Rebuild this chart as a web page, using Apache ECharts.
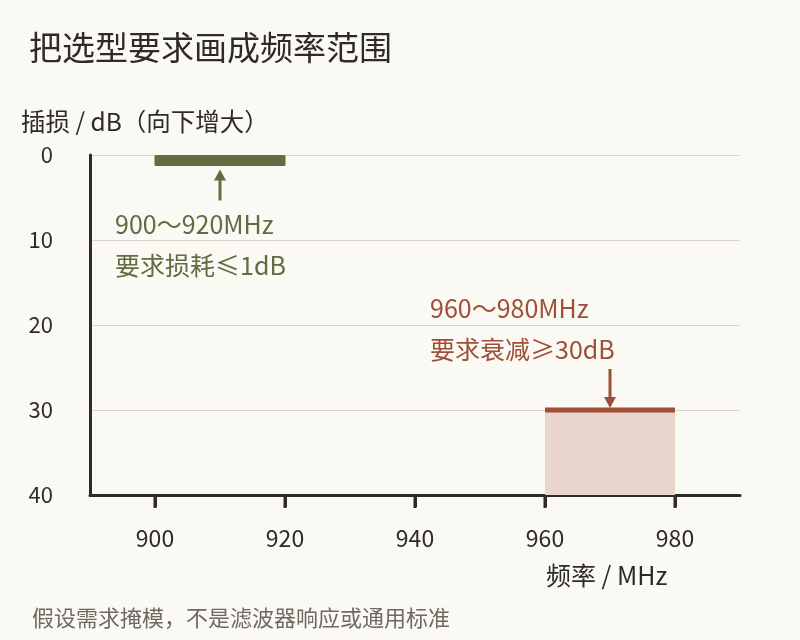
<!DOCTYPE html>
<html>
<head>
<meta charset="utf-8">
<script src="https://cdn.jsdelivr.net/npm/echarts@6/dist/echarts.min.js"></script>
<style>
html,body{margin:0;padding:0;background:#fbf9f4;}
#c{width:800px;height:640px;}
</style>
</head>
<body>
<div id="c"></div>
<script>
// ---- data ----
var xTicks = [900, 920, 940, 960, 980];
var xRange = [890, 990];
var yRange = [0, 40];
var passBand = [900, 920];      // MHz
var passMaxLoss = 1;            // dB
var stopBand = [960, 980];      // MHz
var stopMinAtten = 30;          // dB
var passLabel = ['900～920MHz', '要求损耗≤1dB'];
var stopLabel = ['960～980MHz', '要求衰减≥30dB'];

var FONT = '"Noto Sans CJK SC", "Noto Sans", sans-serif';
var GREEN = '#646b43';
var RED = '#a04f37';
var RED_FILL = '#e8d5cb';
var DARK = '#2e2b27';

var chart = echarts.init(document.getElementById('c'));

function arrow(x, yTip, yTail, color) {
  var dir = yTail > yTip ? 1 : -1;
  var headLen = 11, headW = 6;
  return [
    { type: 'line', shape: { x1: x, y1: yTail, x2: x, y2: yTip + dir * headLen * 0.8 },
      style: { stroke: color, lineWidth: 3 } },
    { type: 'polygon', shape: { points: [[x, yTip], [x - headW, yTip + dir * headLen], [x + headW, yTip + dir * headLen]] },
      style: { fill: color } }
  ];
}

var option = {
  backgroundColor: '#fbf9f4',
  animation: false,
  grid: { left: 90, right: 60, top: 155, bottom: 145, containLabel: false },
  xAxis: {
    type: 'value', min: xRange[0], max: xRange[1], position: 'bottom',
    axisLine: { show: true, onZero: false, lineStyle: { color: DARK, width: 3 } },
    axisTick: { show: true, length: 12, lineStyle: { color: DARK, width: 3 }, customValues: xTicks },
    axisLabel: { customValues: xTicks, margin: 32, fontSize: 23, color: DARK, fontFamily: FONT },
    splitLine: { show: false }
  },
  yAxis: {
    type: 'value', inverse: true, min: yRange[0], max: yRange[1], interval: 10,
    axisLine: { show: true, onZero: false, lineStyle: { color: DARK, width: 3 } },
    axisTick: { show: false },
    axisLabel: { margin: 37, fontSize: 22, color: DARK, fontFamily: FONT },
    splitLine: { show: true, lineStyle: { color: '#ddd4c8', width: 1 } }
  },
  series: [
    {
      type: 'custom',
      data: [[stopBand[0], stopBand[1], stopMinAtten]],
      renderItem: function (params, api) {
        var p0 = api.coord([api.value(0), api.value(2)]);
        var p1 = api.coord([api.value(1), yRange[1]]);
        var mid = api.coord([(api.value(0) + api.value(1)) / 2, api.value(2)]);
        var children = [
          { type: 'rect', shape: { x: p0[0], y: p0[1], width: p1[0] - p0[0], height: p1[1] - p0[1] },
            style: { fill: RED_FILL } },
          { type: 'line', shape: { x1: p0[0], y1: p0[1], x2: p1[0], y2: p0[1] },
            style: { stroke: RED, lineWidth: 5 } }
        ];
        children = children.concat(arrow(mid[0], mid[1] - 2, mid[1] - 41, RED));
        return { type: 'group', children: children };
      },
      z: 3
    },
    {
      type: 'custom',
      data: [[passBand[0], passBand[1], passMaxLoss]],
      renderItem: function (params, api) {
        var p0 = api.coord([api.value(0), yRange[0]]);
        var p1 = api.coord([api.value(1), api.value(2)]);
        var mid = api.coord([(api.value(0) + api.value(1)) / 2, api.value(2)]);
        var children = [
          { type: 'rect', shape: { x: p0[0], y: p0[1] + 0.5, width: p1[0] - p0[0], height: p1[1] - p0[1] + 1.5 },
            style: { fill: GREEN, stroke: GREEN, lineWidth: 1 } }
        ];
        children = children.concat(arrow(mid[0], mid[1] + 6, mid[1] + 37, GREEN));
        return { type: 'group', children: children };
      },
      z: 3
    },
    {
      // x-axis tick marks at the labelled frequencies
      type: 'custom',
      clip: false,
      silent: true,
      data: xTicks.map(function (v) { return [v]; }),
      renderItem: function (params, api) {
        var p = api.coord([api.value(0), yRange[1]]);
        return { type: 'line', shape: { x1: p[0], y1: p[1], x2: p[0], y2: p[1] + 13 },
                 style: { stroke: DARK, lineWidth: 3 } };
      },
      z: 5
    }
  ],
  graphic: [
    { type: 'text', left: 29, top: 31, style: { text: '把选型要求画成频率范围', font: '33px ' + FONT, fill: DARK } },
    { type: 'text', left: 21, top: 109, style: { text: '插损 / dB（向下增大）', font: '24.5px ' + FONT, fill: DARK } },
    { type: 'text', left: 546, top: 563, style: { text: '频率 / MHz', font: '25px ' + FONT, fill: DARK } },
    { type: 'text', left: 32, top: 607, style: { text: '假设需求掩模，不是滤波器响应或通用标准', font: '22px ' + FONT, fill: '#6e6a62' } },
    { type: 'text', left: 115, top: 212, style: { text: passLabel[0], font: '25px ' + FONT, fill: GREEN } },
    { type: 'text', left: 115, top: 253, style: { text: passLabel[1], font: '25px ' + FONT, fill: GREEN } },
    { type: 'text', left: 430, top: 296, style: { text: stopLabel[0], font: '25px ' + FONT, fill: RED } },
    { type: 'text', left: 430, top: 337, style: { text: stopLabel[1], font: '25px ' + FONT, fill: RED } }
  ]
};
chart.setOption(option);
</script>
</body>
</html>
